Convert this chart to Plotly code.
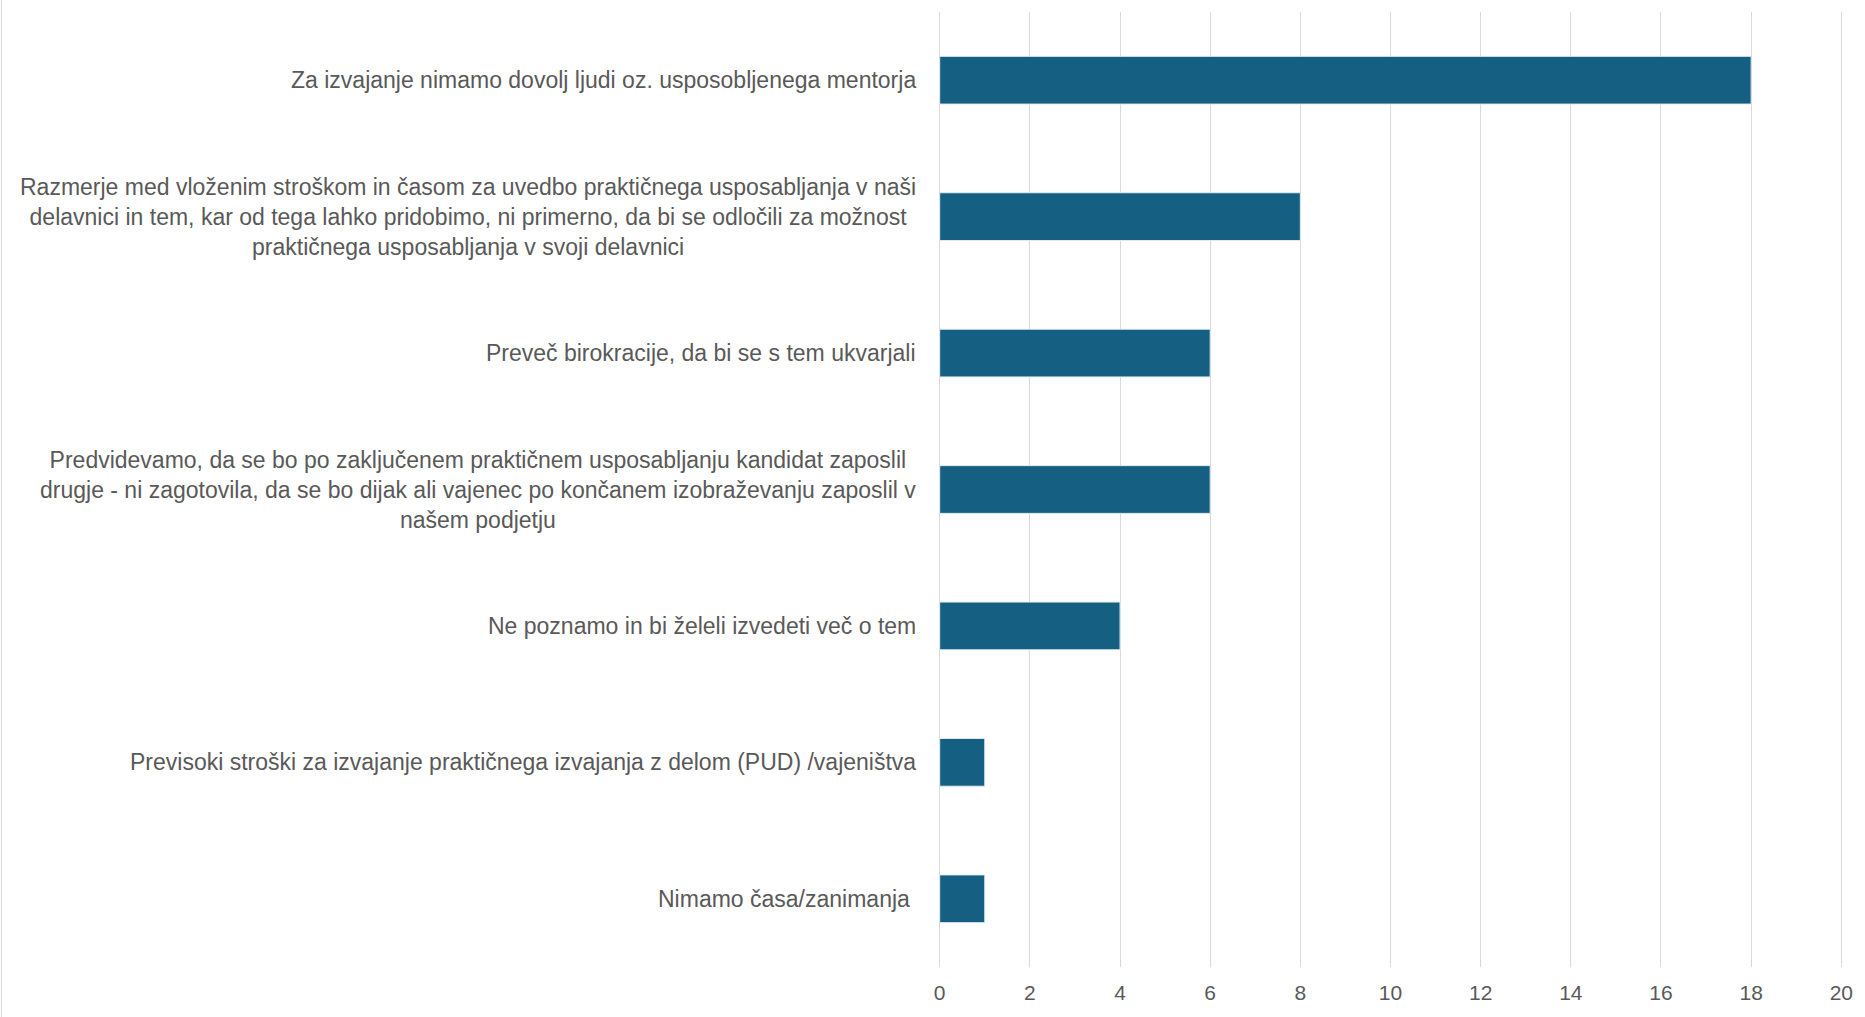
import plotly.graph_objects as go

categories = [
    "Za izvajanje nimamo dovolj ljudi oz. usposobljenega mentorja",
    "Razmerje med vloženim stroškom in časom za uvedbo praktičnega usposabljanja v naši<br>delavnici in tem, kar od tega lahko pridobimo, ni primerno, da bi se odločili za možnost<br>praktičnega usposabljanja v svoji delavnici",
    "Preveč birokracije, da bi se s tem ukvarjali",
    "Predvidevamo, da se bo po zaključenem praktičnem usposabljanju kandidat zaposlil<br>drugje - ni zagotovila, da se bo dijak ali vajenec po končanem izobraževanju zaposlil v<br>našem podjetju",
    "Ne poznamo in bi želeli izvedeti več o tem",
    "Previsoki stroški za izvajanje praktičnega izvajanja z delom (PUD) /vajeništva",
    "Nimamo časa/zanimanja ",
]
values = [18, 8, 6, 6, 4, 1, 1]
x_ticks = list(range(0, 21, 2))

BAR = "#156082"
TXT = "#595959"
GRID = "#D9D9D9"
FONT = "Liberation Sans"

W, H = 1865, 1017
L, R, T, B = 937, 15, 12, 50
EPS = 0.06  # small padding so the 0 and 20 gridlines are drawn

fig = go.Figure(go.Bar(
    y=list(range(len(categories))),
    x=values,
    orientation="h",
    marker=dict(color=BAR, line=dict(color="#E3EBF0", width=1)),
    hoverinfo="x",
))

for i, lab in enumerate(categories):
    fig.add_annotation(
        x=0, xref="x", xanchor="right", xshift=-22,
        y=i, yref="y", yanchor="middle",
        text=lab, align="center", showarrow=False,
        font=dict(family=FONT, size=23, color=TXT),
    )

# thin chart-area border on the left edge
fig.add_shape(type="line", xref="paper", yref="paper",
              xsizemode="pixel", xanchor=0, x0=-(L - 1.5), x1=-(L - 1.5),
              ysizemode="pixel", yanchor=0, y0=-B, y1=H - B,
              line=dict(color="#D9D9D9", width=1))

fig.update_layout(
    width=W, height=H,
    margin=dict(l=L, r=R, t=T, b=B, pad=0),
    paper_bgcolor="white", plot_bgcolor="white",
    bargap=0.65,
    showlegend=False,
    font=dict(family=FONT, color=TXT),
    xaxis=dict(
        range=[-EPS, 20 + EPS], tickvals=x_ticks, ticktext=[str(v) for v in x_ticks],
        showgrid=True, gridcolor=GRID, gridwidth=1,
        zeroline=False, showline=False, ticks="",
        tickfont=dict(family=FONT, size=21, color=TXT),
        ticklabelstandoff=11,
    ),
    yaxis=dict(
        range=[len(categories) - 0.5, -0.5],
        showticklabels=False, showgrid=False, zeroline=False, showline=False, ticks="",
    ),
)

fig.write_html("out.html", config={"displayModeBar": False},
               post_script="document.body.style.margin='0';")
